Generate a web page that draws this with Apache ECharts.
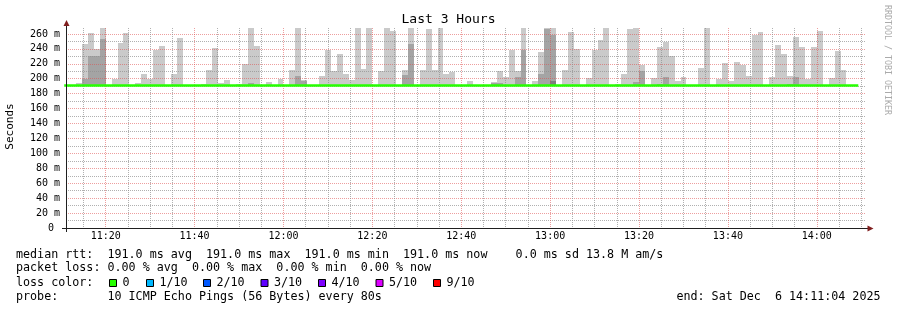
<!DOCTYPE html>
<html>
<head>
<meta charset="utf-8">
<script src="https://cdn.jsdelivr.net/npm/echarts@6/dist/echarts.min.js"></script>
<style>
html,body{margin:0;padding:0;background:#fff;}
#chart{width:897px;height:310px;}
</style>
</head>
<body>
<div id="chart"></div>
<script>
// ---------------- data ----------------
const chartTitle = 'Last 3 Hours';
const yAxisTitle = 'Seconds';
const rangeStart = '11:11:04';
const rangeEnd = '14:11:04';
const firstSlotStart = '11:10:40';
const stepSeconds = 80;
const yTop = 268;

// median rtt per 80 s slot (ms)
const rttMedian = [
  191,191,191,191,191,191,191,191,191,191,
  191,191,191,191,191,191,191,191,191,191,
  191,191,191,191,191,191,191,191,191,191,
  191,191,191,191,191,191,191,191,191,191,
  191,191,191,191,191,191,191,191,191,191,
  191,191,191,191,191,191,191,191,191,191,
  191,191,191,191,191,191,191,191,191,191,
  191,191,191,191,191,191,191,191,191,191,
  191,191,191,191,191,191,191,191,191,191,
  191,191,191,191,191,191,191,191,191,191,
  191,191,191,191,191,191,191,191,191,191,
  191,191,191,191,191,191,191,191,191,191,
  191,191,191,191,191,191,191,191,191,191,
  191,191,191,191
];
// slowest ping per slot (top of lightest smoke)
const rttMax = [
  191,191,194,247,261,240,270,
  191,200,248,261,191,194,206,199,239,244,
  191,206,255,191,191,191,193,212,241,194,
  198,191,193,220,270,244,191,196,191,199,
  191,212,270,198,191,191,204,239,210,233,
  206,198,270,213,270,191,210,270,264,191,
  212,270,191,212,267,212,270,206,209,191,
  191,197,191,191,191,196,210,202,239,210,
  270,191,197,236,270,270,191,212,263,240,
  191,201,239,252,270,191,193,206,267,270,
  218,191,201,243,249,230,197,202,191,191,
  214,270,191,200,221,197,222,218,204,259,
  263,191,202,245,233,204,256,243,200,243,
  264,191,201,237,212,191,191
];
// 9th of 10 pings
const rttP9 = [
  191,191,191,200,230,230,253,
  191,191,191,191,191,191,191,191,191,191,
  191,191,191,191,191,191,191,191,191,191,
  191,191,191,191,194,191,191,191,191,191,
  191,192,204,197,191,191,191,191,191,191,
  191,191,191,191,191,191,191,191,191,191,
  205,247,191,191,191,191,191,191,191,191,
  191,191,191,191,191,194,194,191,191,202,
  239,191,191,206,266,258,191,191,191,191,
  191,191,191,191,191,191,191,191,191,196,
  210,191,191,193,202,191,191,191,191,191,
  191,191,191,191,191,191,191,191,191,191,
  191,191,191,191,191,193,202,191,191,191,
  191,191,191,191,191,191,191
];
// 8th of 10 pings
const rttP8 = [
  191,191,191,191,191,191,191,
  191,191,191,191,191,191,191,191,191,191,
  191,191,191,191,191,191,191,191,191,191,
  191,191,191,191,191,191,191,191,191,191,
  191,191,191,191,191,191,191,191,191,191,
  191,191,191,191,191,191,191,191,191,191,
  191,191,191,191,191,191,191,191,191,191,
  191,191,191,191,191,191,191,191,191,191,
  191,191,191,191,191,197,191,191,191,191,
  191,191,191,191,191,191,191,191,191,191,
  191,191,191,191,191,191,191,191,191,191,
  191,191,191,191,191,191,191,191,191,191,
  191,191,191,191,191,191,191,191,191,191,
  191,191,191,191,191,191,191
];

const statLines = [
  'median rtt:  191.0 ms avg  191.0 ms max  191.0 ms min  191.0 ms now    0.0 ms sd 13.8 M am/s',
  'packet loss: 0.00 % avg  0.00 % max  0.00 % min  0.00 % now',
  'loss color:',
  'probe:       10 ICMP Echo Pings (56 Bytes) every 80s'
];
const lossLabels = ['0', '1/10', '2/10', '3/10', '4/10', '5/10', '9/10'];
const lossColors = ['#26ff00', '#00b8ff', '#0059ff', '#5e00ff', '#7e00ff', '#dd00ff', '#ff0000'];
const endStamp = 'end: Sat Dec  6 14:11:04 2025';
const watermark = 'RRDTOOL / TOBI OETIKER';

// ---------------- layout / style ----------------
const MONO = 'DejaVu Sans Mono';
const smokeColors = ['#cacaca', '#a4a4a4', '#7e7e7e'];
const medianColor = '#26ff00';
const majorGrid = 'rgba(222,79,79,0.55)';
const minorGrid = 'rgba(143,143,143,0.7)';
const axisColor = '#1f1f1f';
const arrowColor = '#801f1f';
const G = {left: 66, top: 28, width: 800, height: 200};
const statY = [254.7, 268.4, 282.6, 296.7];
const boxX = [109, 146, 203, 260.5, 318, 375.5, 433];

const toMin = s => { const p = s.split(':').map(Number); return p[0] * 60 + p[1] + (p[2] || 0) / 60; };
const xMin = toMin(rangeStart), xMax = toMin(rangeEnd);
const slot0 = toMin(firstSlotStart), stepMin = stepSeconds / 60;
const slotStart = i => slot0 + i * stepMin;
const pad = n => (n < 10 ? '0' : '') + n;

function bandData(tops) {
  const out = [];
  tops.forEach((v, i) => { if (v > rttMedian[i]) out.push([slotStart(i), slotStart(i + 1), rttMedian[i], v]); });
  return out;
}
function smokeSeries(tops, color, z) {
  return {
    type: 'custom', z: z, silent: true, animation: false,
    data: bandData(tops),
    renderItem: function (params, api) {
      const a = api.coord([api.value(0), api.value(3)]);
      const b = api.coord([api.value(1), api.value(2)]);
      const x0 = Math.round(a[0]), x1 = Math.round(b[0]);
      const y0 = Math.round(a[1]), y1 = Math.round(b[1]);
      const cs = params.coordSys;
      const r = echarts.graphic.clipRectByRect(
        {x: x0, y: y0, width: x1 - x0, height: y1 - y0},
        {x: cs.x, y: cs.y, width: cs.width, height: cs.height});
      if (!r) return null;
      return {type: 'rect', shape: r, style: {fill: color}};
    }
  };
}

const medianData = rttMedian.map((v, i) => [slotStart(i), v]);
medianData.push([slotStart(rttMedian.length), rttMedian[rttMedian.length - 1]]);

const graphics = [
  {type: 'text', x: 448.5, y: 19.5, style: {text: chartTitle, font: '13px ' + MONO, fill: '#000', align: 'center', verticalAlign: 'middle'}},
  {type: 'text', x: 10, y: 126.5, rotation: Math.PI / 2, style: {text: yAxisTitle, font: '11px ' + MONO, fill: '#000', align: 'center', verticalAlign: 'middle'}},
  {type: 'text', x: 887.5, y: 60, rotation: -Math.PI / 2, style: {text: watermark, font: '8.3px ' + MONO, fill: '#aaaaaa', align: 'center', verticalAlign: 'middle'}},
  // axis extensions and arrows
  {type: 'line', shape: {x1: 62, y1: 228.5, x2: 868, y2: 228.5}, style: {stroke: axisColor, lineWidth: 1}, z: 10},
  {type: 'line', shape: {x1: 66.5, y1: 232, x2: 66.5, y2: 25}, style: {stroke: axisColor, lineWidth: 1}, z: 10},
  {type: 'polygon', shape: {points: [[63.5, 26], [69.5, 26], [66.5, 20]]}, style: {fill: arrowColor}, z: 10},
  {type: 'polygon', shape: {points: [[867.5, 225.5], [867.5, 231.5], [873.5, 228.5]]}, style: {fill: arrowColor}, z: 10},
  {type: 'text', x: 880.5, y: statY[3], style: {text: endStamp, font: '11.7px ' + MONO, fill: '#000', align: 'right', verticalAlign: 'middle'}}
];
statLines.forEach((t, i) => graphics.push({type: 'text', x: 16, y: statY[i], style: {text: t, font: '11.7px ' + MONO, fill: '#000', align: 'left', verticalAlign: 'middle'}}));
lossLabels.forEach((t, i) => {
  graphics.push({type: 'rect', shape: {x: boxX[i] + 0.5, y: 279.5, width: 7, height: 7}, style: {fill: lossColors[i], stroke: '#000', lineWidth: 1}});
  graphics.push({type: 'text', x: boxX[i] + 13.5, y: statY[2], style: {text: t, font: '11.7px ' + MONO, fill: '#000', align: 'left', verticalAlign: 'middle'}});
});

const chart = echarts.init(document.getElementById('chart'), null, {renderer: 'canvas'});
chart.setOption({
  backgroundColor: '#ffffff',
  animation: false,
  grid: {left: G.left, top: G.top, width: G.width, height: G.height, containLabel: false},
  xAxis: {
    type: 'value', min: xMin, max: xMax, minInterval: 5, maxInterval: 5, z: 4,
    axisLine: {show: false},
    axisTick: {show: false},
    axisLabel: {
      margin: 3, showMinLabel: false, showMaxLabel: false,
      fontFamily: MONO, fontSize: 10, color: '#000',
      formatter: v => {
        const r = Math.round(v);
        if (Math.abs(v - r) > 1e-6 || r % 20 !== 0) return '';
        return pad(Math.floor(r / 60)) + ':' + pad(r % 60);
      }
    },
    splitLine: {show: true, showMinLine: false, showMaxLine: false,
      lineStyle: {color: [minorGrid, majorGrid, minorGrid, minorGrid], type: [1, 1], width: 1}}
  },
  yAxis: {
    type: 'value', min: 0, max: yTop, interval: 10, z: 3,
    axisLine: {show: false},
    axisTick: {show: false},
    axisLabel: {
      margin: 6, showMaxLabel: false, fontFamily: MONO, fontSize: 10, color: '#000',
      formatter: v => v === 0 ? '0 ' : (v % 20 === 0 ? v + ' m' : '')
    },
    splitLine: {show: true, showMinLine: false, showMaxLine: false,
      lineStyle: {color: [minorGrid, majorGrid], type: [1, 1], width: 1}}
  },
  series: [
    smokeSeries(rttMax, smokeColors[0], 1),
    smokeSeries(rttP9, smokeColors[1], 1.1),
    smokeSeries(rttP8, smokeColors[2], 1.2),
    {type: 'line', step: 'end', data: medianData, showSymbol: false, z: 6, silent: true,
     lineStyle: {color: medianColor, width: 2.5}, animation: false}
  ],
  graphic: graphics
});
</script>
</body>
</html>
